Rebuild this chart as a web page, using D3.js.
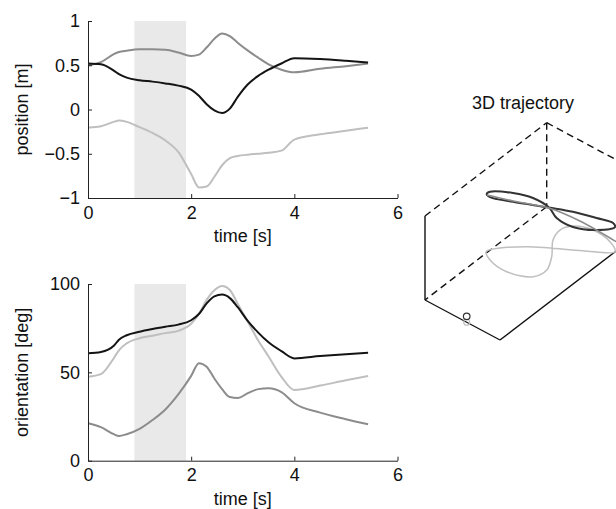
<!DOCTYPE html>
<html>
<head>
<meta charset="utf-8">
<script src="https://cdn.jsdelivr.net/npm/d3@7"></script>
<style>
  body { margin: 0; background: #fff; }
  svg { display: block; font-family: "Liberation Sans", Arial, Helvetica, sans-serif; }
</style>
</head>
<body>
<svg id="fig" width="616" height="509"></svg>
<script>
// sample times [s], shared by both time plots
const time = [0, 0.25, 0.5, 0.6, 0.75, 1.0, 1.25, 1.5, 1.75, 2.0, 2.15, 2.3, 2.45, 2.6, 2.75, 2.9, 3.1, 3.3, 3.5, 3.75, 4.0, 4.5, 5.0, 5.43];

// position [m]
const posBlack = [0.52, 0.51, 0.44, 0.40, 0.36, 0.33, 0.315, 0.295, 0.27, 0.225, 0.155, 0.06, -0.01, -0.04, 0.01, 0.14, 0.285, 0.38, 0.45, 0.52, 0.58, 0.57, 0.55, 0.53];
const posDark = [0.50, 0.535, 0.625, 0.65, 0.665, 0.68, 0.68, 0.675, 0.645, 0.605, 0.62, 0.70, 0.80, 0.86, 0.83, 0.755, 0.665, 0.585, 0.51, 0.45, 0.42, 0.46, 0.49, 0.52];
const posLight = [-0.205, -0.19, -0.14, -0.125, -0.14, -0.2, -0.265, -0.35, -0.48, -0.73, -0.88, -0.87, -0.76, -0.63, -0.55, -0.525, -0.51, -0.5, -0.49, -0.465, -0.34, -0.28, -0.24, -0.205];

// orientation [deg]
const oriBlack = [60.8, 61.5, 65, 68.5, 71, 73, 74.5, 75.8, 77, 79.5, 83, 89, 93, 94, 92, 87, 79, 72.5, 67, 62, 57.9, 59.2, 60.3, 61.1];
const oriDark = [21.2, 19, 15, 14, 15, 18, 23, 29, 37.5, 48, 55.2, 53.2, 46.5, 40.5, 36, 35.5, 38.2, 40.5, 41, 38.8, 32.5, 27.2, 23.5, 20.6];
const oriLight = [47.5, 49, 58, 62.5, 66.4, 69.3, 70.7, 72.2, 73.5, 77.5, 83, 91, 96.5, 98.9, 96.6, 89, 78.5, 68, 59, 47.5, 40, 42.5, 45.5, 47.9];

const shadeWindow = [0.9, 1.9];
const timeTicks = [0, 2, 4, 6];
const posTicks = [-1, -0.5, 0, 0.5, 1];
const oriTicks = [0, 50, 100];

// 3D trajectory, box units [u, v, w]
const traj3dDark = [
  [-0.085, 0.559, 0.6], [-0.082, 0.585, 0.6], [0.112, 0.654, 0.6], [0.320, 0.690, 0.6],
  [0.544, 0.684, 0.6], [0.712, 0.643, 0.6], [0.932, 0.641, 0.6], [1.152, 0.703, 0.6],
  [1.263, 0.783, 0.6], [1.206, 0.802, 0.6], [1.026, 0.778, 0.6], [0.775, 0.738, 0.6],
  [0.544, 0.684, 0.6], [0.201, 0.599, 0.6], [-0.028, 0.551, 0.6]
];
const traj3dMid = [
  [-0.072, 0.554, 0.6], [0.193, 0.604, 0.6], [0.457, 0.663, 0.6],
  [0.548, 0.681, 0.6], [0.925, 0.703, 0.6], [1.421, 0.694, 0.6]
];
const traj3dLight = [
  [0.157, 0.405, 0.2], [0.273, 0.366, 0.2], [0.524, 0.348, 0.2], [0.783, 0.405, 0.2],
  [0.822, 0.494, 0.2], [0.724, 0.595, 0.2], [0.563, 0.705, 0.2], [0.516, 0.791, 0.2],
  [0.577, 0.860, 0.2], [0.775, 0.903, 0.2], [1.029, 0.886, 0.2], [1.171, 0.840, 0.2],
  [0.909, 0.738, 0.2], [0.622, 0.644, 0.2], [0.425, 0.574, 0.2], [0.229, 0.475, 0.2]
];
const startDark = [0.556, 0, 0.07];
const startLight = [0.556, 0, 0];

// box corners and which edges show (solid = front, dashed = back)
const boxEdges = [
  { a: [0, 0, 0], b: [0, 0, 1], dash: false },
  { a: [0, 0, 0], b: [1, 0, 0], dash: false },
  { a: [1, 0, 0], b: [1, 1, 0], dash: false },
  { a: [0, 0, 1], b: [0, 1, 1], dash: true },
  { a: [0, 1, 1], b: [1, 1, 1], dash: true },
  { a: [0, 1, 1], b: [0, 1, 0], dash: true },
  { a: [0, 1, 0], b: [0, 0, 0], dash: true }
];

const svg = d3.select('#fig');
svg.append('rect').attr('width', 616).attr('height', 509).attr('fill', '#fff');

const colBlack = '#141414', colDark = '#8c8c8c', colLight = '#bfbfbf';
const FS = 18;
const fmt = d3.format('~g');

function drawPanel(top, bottom, yDomain, yTicks, series, ylabel) {
  const x = d3.scaleLinear().domain([0, 6]).range([88, 397.5]);
  const y = d3.scaleLinear().domain(yDomain).range([bottom, top]);
  const g = svg.append('g');

  g.append('rect')
    .attr('x', x(shadeWindow[0]))
    .attr('width', x(shadeWindow[1]) - x(shadeWindow[0]))
    .attr('y', top)
    .attr('height', bottom - top)
    .attr('fill', '#e8e9e8');

  const line = d3.line()
    .x(d => x(d[0]))
    .y(d => y(d[1]))
    .curve(d3.curveMonotoneX);

  series.forEach(s => {
    g.append('path')
      .datum(time.map((t, i) => [t, s.values[i]]))
      .attr('d', line)
      .attr('fill', 'none')
      .attr('stroke', s.color)
      .attr('stroke-width', 2);
  });

  const xAxisG = g.append('g')
    .attr('transform', `translate(0,${bottom})`)
    .call(d3.axisBottom(x).tickValues(timeTicks).tickFormat(fmt)
      .tickSizeInner(-4).tickSizeOuter(0).tickPadding(8));
  const yAxisG = g.append('g')
    .attr('transform', `translate(${x(0)},0)`)
    .call(d3.axisLeft(y).tickValues(yTicks).tickFormat(fmt)
      .tickSizeInner(-4).tickSizeOuter(0).tickPadding(8));

  [xAxisG, yAxisG].forEach(a => {
    a.attr('font-size', FS).attr('font-family', null);
    a.select('.domain').attr('stroke', '#222');
    a.selectAll('.tick line').attr('stroke', '#222');
    a.selectAll('.tick text').attr('fill', '#111');
  });

  g.append('text')
    .attr('x', (x(0) + x(6)) / 2)
    .attr('y', bottom + 44)
    .attr('text-anchor', 'middle')
    .attr('font-size', FS)
    .attr('fill', '#111')
    .text('time [s]');

  g.append('text')
    .attr('transform', `translate(28,${(top + bottom) / 2}) rotate(-90)`)
    .attr('text-anchor', 'middle')
    .attr('font-size', FS)
    .attr('fill', '#111')
    .text(ylabel);
}

drawPanel(21, 198, [-1, 1], posTicks, [
  { values: posLight, color: colLight },
  { values: posDark, color: colDark },
  { values: posBlack, color: colBlack }
], 'position [m]');

drawPanel(284, 460.7, [0, 100], oriTicks, [
  { values: oriLight, color: colLight },
  { values: oriDark, color: colDark },
  { values: oriBlack, color: colBlack }
], 'orientation [deg]');

// ---- 3D trajectory panel (oblique box projection) ----
const origin = [425, 300];
const uX = d3.scaleLinear().domain([0, 1]).range([0, 75]);
const uY = d3.scaleLinear().domain([0, 1]).range([0, 40]);
const vX = d3.scaleLinear().domain([0, 1]).range([0, 121.7]);
const vY = d3.scaleLinear().domain([0, 1]).range([0, -93.3]);
const wY = d3.scaleLinear().domain([0, 1]).range([0, -84]);
const proj = p => [origin[0] + uX(p[0]) + vX(p[1]), origin[1] + uY(p[0]) + vY(p[1]) + wY(p[2])];

const g3 = svg.append('g');

g3.append('text')
  .attr('x', 523)
  .attr('y', 109)
  .attr('text-anchor', 'middle')
  .attr('font-size', FS)
  .attr('fill', '#111')
  .text('3D trajectory');

g3.selectAll('line.edge')
  .data(boxEdges)
  .join('line')
  .attr('class', 'edge')
  .attr('x1', d => proj(d.a)[0])
  .attr('y1', d => proj(d.a)[1])
  .attr('x2', d => proj(d.b)[0])
  .attr('y2', d => proj(d.b)[1])
  .attr('stroke', '#111')
  .attr('stroke-width', 1.4)
  .attr('stroke-dasharray', d => d.dash ? '7,4.5' : null);

const closed3d = d3.line().x(d => proj(d)[0]).y(d => proj(d)[1]).curve(d3.curveCatmullRomClosed);
const open3d = d3.line().x(d => proj(d)[0]).y(d => proj(d)[1]).curve(d3.curveCatmullRom);

g3.append('path').datum(traj3dLight).attr('d', closed3d)
  .attr('fill', 'none').attr('stroke', colLight).attr('stroke-width', 1.5);
g3.append('path').datum(traj3dDark).attr('d', closed3d)
  .attr('fill', 'none').attr('stroke', '#333').attr('stroke-width', 2);
g3.append('path').datum(traj3dMid).attr('d', open3d)
  .attr('fill', 'none').attr('stroke', colDark).attr('stroke-width', 1.6);

g3.append('circle')
  .attr('cx', proj(startLight)[0]).attr('cy', proj(startLight)[1]).attr('r', 3)
  .attr('fill', 'none').attr('stroke', colLight).attr('stroke-width', 1.2);
g3.append('circle')
  .attr('cx', proj(startDark)[0]).attr('cy', proj(startDark)[1]).attr('r', 3.3)
  .attr('fill', 'none').attr('stroke', '#333').attr('stroke-width', 1.2);
</script>
</body>
</html>
